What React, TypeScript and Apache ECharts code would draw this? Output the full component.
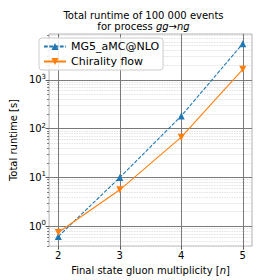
import React, { useEffect, useRef } from 'react';
import * as echarts from 'echarts';

const multiplicity = [2, 3, 4, 5];
const mg5Runtime = [0.62, 10.0, 182, 5500];
const chiralityRuntime = [0.75, 5.6, 67, 1640];
const xTicks = [2, 3, 4, 5];
const yMajorTicks = [1, 10, 100, 1000];
const yMinorTicks = [
  0.4, 0.5, 0.6, 0.7, 0.8, 0.9,
  2, 3, 4, 5, 6, 7, 8, 9,
  20, 30, 40, 50, 60, 70, 80, 90,
  200, 300, 400, 500, 600, 700, 800, 900,
  2000, 3000, 4000, 5000, 6000, 7000, 8000,
];
const xMin = 1.85;
const xMax = 5.15;
const yMin = 0.394;
const yMax = 8660;

const FONT = 'DejaVu Sans';

export default function App() {
  const ref = useRef<HTMLDivElement>(null);
  useEffect(() => {
    if (!ref.current) return;
    const chart = echarts.init(ref.current, undefined, { renderer: 'svg' });
    const supLabel = (v: number) => {
      const e = Math.round(Math.log10(v));
      return `{b|10}{s|${e}}`;
    };
    chart.setOption({
      animation: false,
      textStyle: { fontFamily: FONT },
      graphic: [
        {
          type: 'text',
          x: 143.5,
          y: 10,
          style: {
            text: 'Total runtime of 100 000 events',
            fontFamily: FONT,
            fontSize: 10,
            fill: '#000',
            align: 'center',
          },
        },
        {
          type: 'text',
          x: 143.5,
          y: 21,
          style: {
            text: '{n|for process }{i|gg→ng}',
            fontFamily: FONT,
            fontSize: 10,
            fill: '#000',
            align: 'center',
            rich: {
              n: { fontFamily: FONT, fontSize: 10, fill: '#000' },
              i: { fontFamily: FONT, fontSize: 10, fontStyle: 'italic', fill: '#000' },
            },
          },
        },
      ],
      grid: {
        left: 35,
        right: 28,
        top: 34,
        bottom: 31,
        show: true,
        borderColor: '#b0b0b0',
        borderWidth: 1,
        backgroundColor: 'transparent',
      },
      legend: {
        orient: 'vertical',
        left: 39,
        top: 38,
        itemWidth: 22,
        itemHeight: 9,
        itemGap: 4,
        padding: [3, 4, 3, 4],
        backgroundColor: 'rgba(255,255,255,0.85)',
        borderColor: '#cccccc',
        borderWidth: 1,
        borderRadius: 3,
        textStyle: { fontFamily: FONT, fontSize: 11, color: '#000' },
        data: ['MG5_aMC@NLO', 'Chirality flow'],
      },
      xAxis: {
        type: 'value',
        min: xMin,
        max: xMax,
        name: 'Final state gluon multiplicity [{i|n}]',
        nameLocation: 'middle',
        nameGap: 13,
        nameTextStyle: {
          fontFamily: FONT,
          fontSize: 10,
          color: '#000',
          rich: { i: { fontFamily: FONT, fontSize: 10, fontStyle: 'italic', color: '#000' } },
        },
        axisLine: { show: false },
        axisTick: {
          show: true,
          length: 3.5,
          lineStyle: { color: '#555' },
          customValues: xTicks,
        },
        axisLabel: {
          fontFamily: FONT,
          fontSize: 10,
          color: '#000',
          margin: 4,
          customValues: xTicks,
        },
        splitLine: { show: true, lineStyle: { color: '#7a7a7a', width: 1 } },
      },
      yAxis: [
        {
          type: 'log',
          logBase: 10,
          min: yMin,
          max: yMax,
          name: 'Total runtime [s]',
          nameLocation: 'middle',
          nameGap: 24,
          nameTextStyle: { fontFamily: FONT, fontSize: 10, color: '#000' },
          axisLine: { show: false },
          axisTick: {
            show: true,
            length: 3.5,
            lineStyle: { color: '#555' },
            customValues: yMajorTicks,
          },
          axisLabel: {
            fontFamily: FONT,
            fontSize: 10,
            color: '#000',
            margin: 3,
            customValues: yMajorTicks,
            formatter: supLabel,
            rich: {
              b: { fontFamily: FONT, fontSize: 10, color: '#000' },
              s: { fontFamily: FONT, fontSize: 7, color: '#000', verticalAlign: 'top', padding: [0, 0, 6, 0] },
            },
          },
          splitLine: { show: true, lineStyle: { color: '#7a7a7a', width: 1 } },
          z: 1,
        },
        {
          type: 'log',
          logBase: 10,
          min: yMin,
          max: yMax,
          position: 'left',
          axisLine: { show: false },
          axisTick: {
            show: true,
            length: 2,
            lineStyle: { color: '#777' },
            customValues: yMinorTicks,
          },
          axisLabel: { show: false },
          splitLine: {
            show: true,
            lineStyle: { color: '#dcdcdc', width: 0.8, type: [1.5, 1] },
          },
          z: 0,
        },
      ],
      series: [
        {
          name: 'MG5_aMC@NLO',
          type: 'line',
          yAxisIndex: 0,
          data: multiplicity.map((n, i) => [n, mg5Runtime[i]]),
          symbol: 'triangle',
          symbolSize: 7,
          itemStyle: { color: '#1f77b4' },
          lineStyle: { color: '#1f77b4', width: 1.1, type: [3.7, 1.6] },
          z: 3,
        },
        {
          name: 'Chirality flow',
          type: 'line',
          yAxisIndex: 0,
          data: multiplicity.map((n, i) => [n, chiralityRuntime[i]]),
          symbol: 'triangle',
          symbolRotate: 180,
          symbolSize: 7,
          itemStyle: { color: '#ff7f0e' },
          lineStyle: { color: '#ff7f0e', width: 1.1 },
          z: 4,
        },
      ],
    });
    return () => chart.dispose();
  }, []);
  return (
    <div
      ref={ref}
      style={{ position: 'fixed', left: 0, top: 0, width: 280, height: 280, background: '#fff' }}
    />
  );
}
